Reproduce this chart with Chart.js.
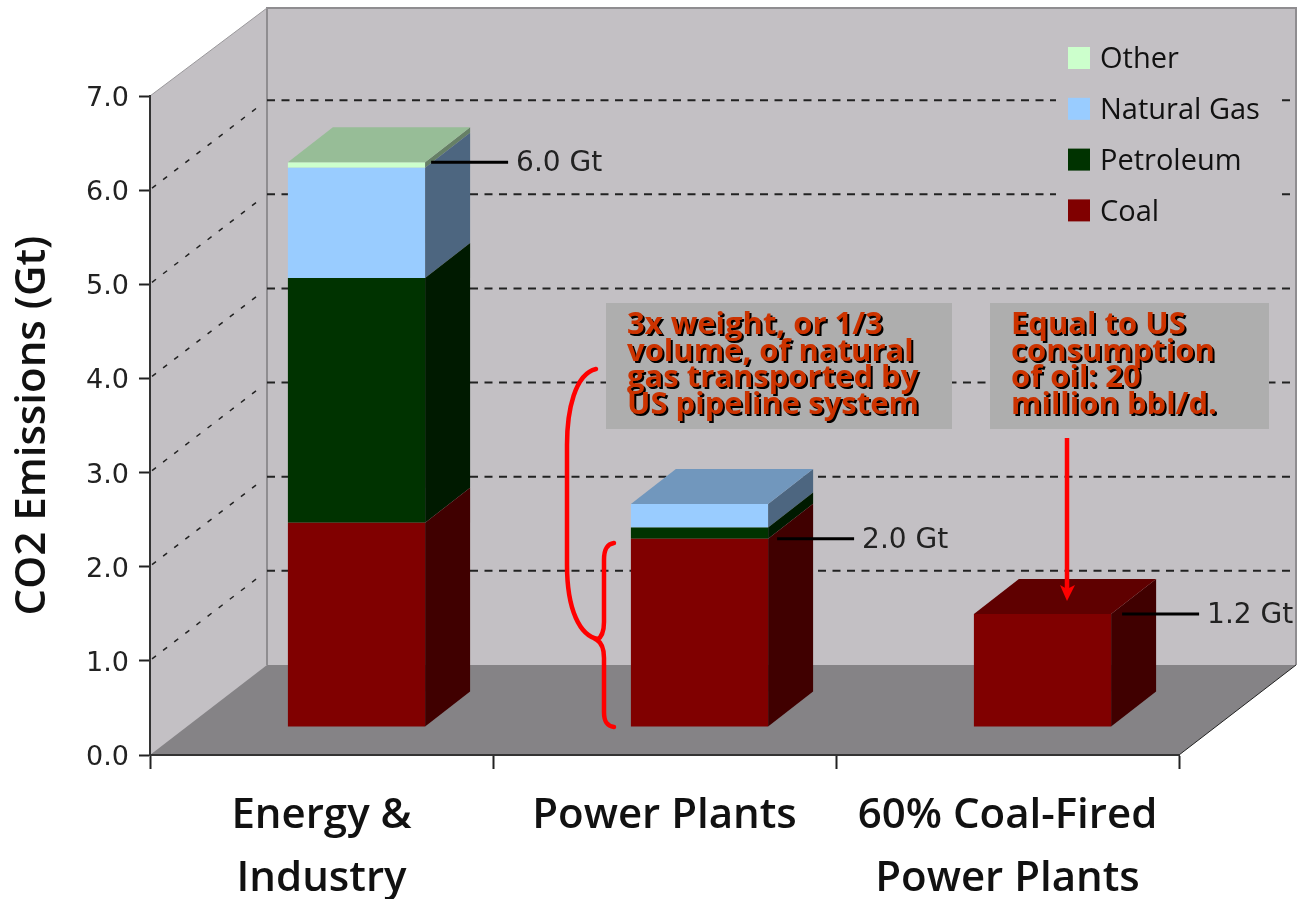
<!DOCTYPE html>
<html>
<head>
<meta charset="utf-8">
<title>CO2 Emissions</title>
<style>
  html, body { margin: 0; padding: 0; background: #fff; }
  canvas { display: block; }
</style>
<script src="https://cdn.jsdelivr.net/npm/chart.js@4"></script>
</head>
<body>
<canvas id="co2Chart" width="1298" height="899"></canvas>
<script>
const categories = [["Energy &", "Industry"], "Power Plants", ["60% Coal-Fired", "Power Plants"]];
const coal = [2.17, 2.0, 1.2];
const petroleum = [2.6, 0.12, 0];
const naturalGas = [1.17, 0.25, 0];
const other = [0.06, 0, 0];
const totalLabels = ["6.0 Gt", "2.0 Gt", "1.2 Gt"];
// which stack each total label points at (dataset index)
const labelStack = [3, 0, 0];
const yTicks = [0, 1, 2, 3, 4, 5, 6, 7];
const noteLeft = ["3x weight, or 1/3", "volume, of natural", "gas transported by", "US pipeline system"];
const noteRight = ["Equal to US", "consumption", "of oil: 20", "million bbl/d."];

// fake 3D: walls recede by WALL, bars sit OFFSET in from the front and are BAR_DEPTH deep
const WALL = { x: 117, y: -90 };
const OFFSET = { x: 35, y: -28 };
const BAR_DEPTH = { x: 45, y: -35 };
const LEADER_GAP = [6, 9, 11];
const FONT = '"Open Sans", "Noto Sans", sans-serif';

const shade = (hex, k) => {
  const n = parseInt(hex.slice(1), 16);
  const c = [n >> 16, (n >> 8) & 255, n & 255].map((v) => Math.round(v * k));
  return `rgb(${c[0]},${c[1]},${c[2]})`;
};

const poly = (ctx, pts, fill) => {
  ctx.beginPath();
  pts.forEach((p, i) => (i ? ctx.lineTo(p[0], p[1]) : ctx.moveTo(p[0], p[1])));
  ctx.closePath();
  ctx.fillStyle = fill;
  ctx.fill();
};

const line = (ctx, x1, y1, x2, y2) => {
  ctx.beginPath();
  ctx.moveTo(x1, y1);
  ctx.lineTo(x2, y2);
  ctx.stroke();
};

// back wall, side wall, floor and the dashed gridlines
const wallsPlugin = {
  id: "walls",
  beforeDraw(chart) {
    const { ctx, chartArea: a, scales } = chart;
    const y = scales.y;
    const w = WALL;
    ctx.save();
    poly(ctx, [[a.left, a.top], [a.left + w.x, a.top + w.y + 2], [a.right + w.x, a.top + w.y + 2],
      [a.right + w.x, a.bottom + w.y], [a.left, a.bottom]], "#c3c0c4");
    poly(ctx, [[a.left, a.bottom], [a.left + w.x, a.bottom + w.y], [a.right + w.x, a.bottom + w.y],
      [a.right, a.bottom]], "#858386");

    ctx.strokeStyle = "#8f8d90";
    ctx.lineWidth = 2;
    ctx.beginPath();
    ctx.moveTo(a.left + w.x, a.bottom + w.y);
    ctx.lineTo(a.left + w.x, a.top + w.y + 2);
    ctx.lineTo(a.right + w.x, a.top + w.y + 2);
    ctx.lineTo(a.right + w.x, a.bottom + w.y);
    ctx.stroke();
    ctx.lineWidth = 1;
    ctx.strokeStyle = "#9a989b";
    line(ctx, a.left, a.top, a.left + w.x, a.top + w.y + 2);
    ctx.strokeStyle = "#222";
    line(ctx, a.right, a.bottom, a.right + w.x, a.bottom + w.y);

    // gridlines run along the side wall, then across the back wall
    ctx.strokeStyle = "#222";
    ctx.lineWidth = 2;
    yTicks.slice(1, -1).forEach((t) => {
      const py = y.getPixelForValue(t);
      ctx.setLineDash([8, 6.5]);
      line(ctx, a.left + w.x, py + w.y, a.right + w.x - 2, py + w.y);
      ctx.lineWidth = 1.5;
      ctx.setLineDash([5, 9]);
      line(ctx, a.left + 2, py - 2, a.left + w.x - 4, py + w.y + 3);
      ctx.lineWidth = 2;
    });
    ctx.setLineDash([]);

    // the legend sits on a patch of wall colour that hides the gridlines
    ctx.fillStyle = "#c3c0c4";
    ctx.fillRect(1056, 36, 222, 194);
    ctx.restore();
  },

  // bars are drawn by the library, only slid back from the front edge
  beforeDatasetDraw(chart) {
    chart.ctx.save();
    chart.ctx.translate(OFFSET.x, OFFSET.y);
  },

  afterDatasetDraw(chart, args) {
    const { ctx } = chart;
    const color = chart.data.datasets[args.index].backgroundColor;
    const d = BAR_DEPTH;
    args.meta.data.forEach((bar, i) => {
      if (bar.base - bar.y < 0.5) return;
      const right = bar.x + bar.width / 2;
      const left = bar.x - bar.width / 2;
      poly(ctx, [[right, bar.y], [right + d.x, bar.y + d.y], [right + d.x, bar.base + d.y], [right, bar.base]],
        shade(color, 0.5));
      // top face only on the highest piece of the stack
      const above = chart.data.datasets.slice(args.index + 1).some((ds) => ds.data[i] > 0);
      if (!above) {
        poly(ctx, [[left, bar.y], [left + d.x, bar.y + d.y], [right + d.x, bar.y + d.y], [right, bar.y]],
          shade(color, 0.74));
      }
    });
    ctx.restore();
  },

  afterDatasetsDraw(chart) {
    const { ctx } = chart;
    ctx.save();
    // total labels with their leader lines
    ctx.font = `28px "DejaVu Sans", sans-serif`;
    ctx.textBaseline = "middle";
    totalLabels.forEach((text, i) => {
      const bar = chart.getDatasetMeta(labelStack[i]).data[i];
      const x = bar.x + bar.width / 2 + OFFSET.x + LEADER_GAP[i];
      const y = bar.y + OFFSET.y;
      ctx.strokeStyle = "#000";
      ctx.lineWidth = 3;
      line(ctx, x, y, x + 77, y);
      ctx.fillStyle = "#222";
      ctx.fillText(text, x + 85, y + 2);
    });

    // legend, top of the stack first
    chart.data.datasets.slice().reverse().forEach((ds, i) => {
      const top = 47 + i * 50.8;
      ctx.fillStyle = ds.backgroundColor;
      ctx.fillRect(1068, top, 22, 22);
      ctx.font = `29px ${FONT}`;
      ctx.fillStyle = "#111";
      ctx.fillText(ds.label, 1100, top + 13);
    });

    drawNote(ctx, 606, 346, 627, noteLeft);
    drawNote(ctx, 990, 279, 1011, noteRight);
    drawBraces(ctx);
    drawArrow(ctx);
    ctx.restore();
  },
};

const drawNote = (ctx, x, w, textX, lines) => {
  ctx.fillStyle = "#aeaeae";
  ctx.fillRect(x, 303, w, 126);
  ctx.font = `700 31px ${FONT}`;
  ctx.textBaseline = "alphabetic";
  lines.forEach((text, i) => {
    const y = 334 + i * 26.7;
    ctx.fillStyle = "#000";
    ctx.fillText(text, textX + 2, y + 2);
    ctx.fillStyle = "#cc3300";
    ctx.fillText(text, textX, y);
  });
};

const drawBraces = (ctx) => {
  ctx.strokeStyle = "#ff0000";
  ctx.lineWidth = 4.5;
  ctx.lineCap = "round";
  ctx.beginPath();
  ctx.moveTo(596, 369);
  ctx.bezierCurveTo(575, 374, 567, 410, 567, 445);
  ctx.lineTo(567, 565);
  ctx.bezierCurveTo(567, 610, 580, 636, 598, 639);
  ctx.moveTo(614, 543);
  ctx.bezierCurveTo(607, 544, 604, 549, 604, 560);
  ctx.lineTo(604, 622);
  ctx.bezierCurveTo(604, 632, 602, 637, 597, 640);
  ctx.bezierCurveTo(602, 643, 604, 648, 604, 658);
  ctx.lineTo(604, 712);
  ctx.bezierCurveTo(604, 722, 607, 726, 614, 727);
  ctx.stroke();
};

const drawArrow = (ctx) => {
  ctx.strokeStyle = "#ff0000";
  ctx.lineWidth = 4.5;
  ctx.lineCap = "butt";
  line(ctx, 1067, 438, 1067, 592);
  poly(ctx, [[1067, 601], [1060, 585], [1067, 589], [1075, 585]], "#ff0000");
};

new Chart(document.getElementById("co2Chart"), {
  type: "bar",
  data: {
    labels: categories,
    datasets: [
      { label: "Coal", data: coal, backgroundColor: "#800000" },
      { label: "Petroleum", data: petroleum, backgroundColor: "#003300" },
      { label: "Natural Gas", data: naturalGas, backgroundColor: "#99ccff" },
      { label: "Other", data: other, backgroundColor: "#ccffcc" },
    ],
  },
  plugins: [wallsPlugin],
  options: {
    responsive: false,
    animation: false,
    clip: false,
    barPercentage: 0.4,
    categoryPercentage: 1,
    layout: { padding: { top: 96, right: 119, left: 0, bottom: 0 } },
    plugins: { legend: { display: false }, tooltip: { enabled: false } },
    scales: {
      x: {
        stacked: true,
        afterFit: (axis) => { axis.height = 144; },
        grid: { drawOnChartArea: false, color: "#222", tickLength: 14, tickWidth: 2 },
        border: { color: "#333", width: 2 },
        ticks: {
          color: "#111",
          maxRotation: 0,
          autoSkip: false,
          padding: 16,
          font: { family: FONT, size: 42, weight: 600, lineHeight: 1.5 },
        },
      },
      y: {
        stacked: true,
        min: 0,
        max: 7,
        afterFit: (axis) => { axis.width = 150; },
        grid: { drawOnChartArea: false, color: "#222", tickLength: 11, tickWidth: 2 },
        border: { color: "#333", width: 2 },
        title: {
          display: true,
          text: "CO2 Emissions (Gt)",
          color: "#111",
          padding: { top: 8, bottom: 0 },
          font: { family: FONT, size: 42, weight: 600 },
        },
        ticks: {
          stepSize: 1,
          color: "#222",
          padding: 10,
          labelOffset: 3,
          callback: (v) => v.toFixed(1),
          font: { family: '"DejaVu Sans", sans-serif', size: 27 },
        },
      },
    },
  },
});
</script>
</body>
</html>
